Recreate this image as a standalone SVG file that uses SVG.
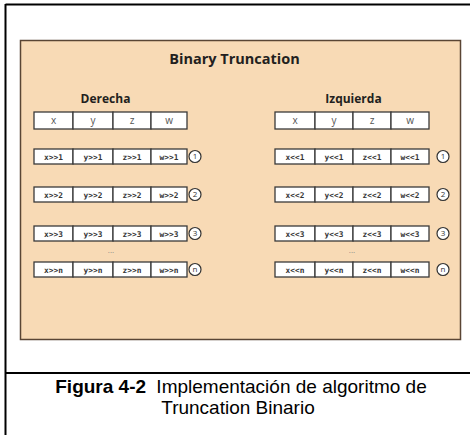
<svg xmlns="http://www.w3.org/2000/svg" width="470" height="435" viewBox="0 0 470 435">
<style>
.frame{stroke:#000;stroke-width:2;fill:none}
.panel{fill:#F8DAB5;stroke:#5a4534;stroke-width:1.5}
.cell{fill:#fff;stroke:#3a3a3a;stroke-width:1.3}
.title{font-family:"Open Sans",sans-serif;font-weight:bold;font-size:14.5px;fill:#231f20;text-anchor:middle}
.sub{font-family:"Open Sans",sans-serif;font-weight:bold;font-size:12px;fill:#231f20;text-anchor:middle}
.hdr{font-family:"Open Sans",sans-serif;font-size:10px;fill:#555;text-anchor:middle}
.dat{font-family:"DejaVu Sans Mono",monospace;font-weight:bold;font-size:7.8px;fill:#333;text-anchor:middle}
.circ{fill:#fff;stroke:#333;stroke-width:1.2}
.num{font-family:"Open Sans",sans-serif;font-size:8px;fill:#333;text-anchor:middle}
.dots{font-family:"Open Sans",sans-serif;font-size:8px;fill:#888;text-anchor:middle}
.cap{font-family:"Liberation Sans",Arial,sans-serif;font-size:19px;fill:#000;text-anchor:middle}
</style>
<defs>
<g id="row4">
<rect class="cell" x="0" y="0" width="39" height="15"/>
<rect class="cell" x="39" y="0" width="40" height="15"/>
<rect class="cell" x="79" y="0" width="38" height="15"/>
<rect class="cell" x="117" y="0" width="36" height="15"/>
</g>
<g id="row4r">
<rect class="cell" x="0" y="0" width="40" height="15"/>
<rect class="cell" x="40" y="0" width="38" height="15"/>
<rect class="cell" x="78" y="0" width="38" height="15"/>
<rect class="cell" x="116" y="0" width="38" height="15"/>
</g>
</defs>
<rect width="470" height="435" fill="#fff"/>
<g id="frame">
<line class="frame" x1="5.5" y1="4.5" x2="470" y2="4.5"/>
<line class="frame" x1="5.5" y1="4" x2="5.5" y2="435"/>
<line class="frame" x1="5" y1="373" x2="470" y2="373"/>
</g>
<g id="panel">
<rect class="panel" x="20.5" y="40.5" width="440" height="299"/>
<text class="title" x="234.5" y="64">Binary Truncation</text>
</g>
<g id="derecha">
<text class="sub" x="105.5" y="103">Derecha</text>
<g id="d-head">
<rect class="cell" x="34" y="112" width="39" height="17"/>
<rect class="cell" x="73" y="112" width="40" height="17"/>
<rect class="cell" x="113" y="112" width="38" height="17"/>
<rect class="cell" x="151" y="112" width="36" height="17"/>
<text class="hdr" x="53.5" y="124">x</text>
<text class="hdr" x="93" y="124">y</text>
<text class="hdr" x="132" y="124">z</text>
<text class="hdr" x="169" y="124">w</text>
</g>
<g id="d-r1">
<use href="#row4" x="34" y="149"/>
<text class="dat" x="53.5" y="159.5">x&gt;&gt;1</text>
<text class="dat" x="93" y="159.5">y&gt;&gt;1</text>
<text class="dat" x="132" y="159.5">z&gt;&gt;1</text>
<text class="dat" x="169" y="159.5">w&gt;&gt;1</text>
<circle class="circ" cx="195" cy="156.5" r="6"/>
<text class="num" x="195" y="159.4">1</text>
</g>
<g id="d-r2">
<use href="#row4" x="34" y="187"/>
<text class="dat" x="53.5" y="197.5">x&gt;&gt;2</text>
<text class="dat" x="93" y="197.5">y&gt;&gt;2</text>
<text class="dat" x="132" y="197.5">z&gt;&gt;2</text>
<text class="dat" x="169" y="197.5">w&gt;&gt;2</text>
<circle class="circ" cx="195" cy="194.5" r="6"/>
<text class="num" x="195" y="197.4">2</text>
</g>
<g id="d-r3">
<use href="#row4" x="34" y="226"/>
<text class="dat" x="53.5" y="236.5">x&gt;&gt;3</text>
<text class="dat" x="93" y="236.5">y&gt;&gt;3</text>
<text class="dat" x="132" y="236.5">z&gt;&gt;3</text>
<text class="dat" x="169" y="236.5">w&gt;&gt;3</text>
<circle class="circ" cx="195" cy="233.5" r="6"/>
<text class="num" x="195" y="236.4">3</text>
</g>
<text class="dots" x="111" y="253">...</text>
<g id="d-rn">
<use href="#row4" x="34" y="262"/>
<text class="dat" x="53.5" y="272.5">x&gt;&gt;n</text>
<text class="dat" x="93" y="272.5">y&gt;&gt;n</text>
<text class="dat" x="132" y="272.5">z&gt;&gt;n</text>
<text class="dat" x="169" y="272.5">w&gt;&gt;n</text>
<circle class="circ" cx="195" cy="269.5" r="6"/>
<text class="num" x="195" y="272.2">n</text>
</g>
</g>
<g id="izquierda">
<text class="sub" x="353.5" y="103">Izquierda</text>
<g id="i-head">
<rect class="cell" x="275" y="112" width="40" height="17"/>
<rect class="cell" x="315" y="112" width="38" height="17"/>
<rect class="cell" x="353" y="112" width="38" height="17"/>
<rect class="cell" x="391" y="112" width="38" height="17"/>
<text class="hdr" x="295" y="124">x</text>
<text class="hdr" x="334" y="124">y</text>
<text class="hdr" x="372" y="124">z</text>
<text class="hdr" x="410" y="124">w</text>
</g>
<g id="i-r1">
<use href="#row4r" x="275" y="149"/>
<text class="dat" x="295" y="159.5">x&lt;&lt;1</text>
<text class="dat" x="334" y="159.5">y&lt;&lt;1</text>
<text class="dat" x="372" y="159.5">z&lt;&lt;1</text>
<text class="dat" x="410" y="159.5">w&lt;&lt;1</text>
<circle class="circ" cx="443" cy="156.5" r="6"/>
<text class="num" x="443" y="159.4">1</text>
</g>
<g id="i-r2">
<use href="#row4r" x="275" y="187"/>
<text class="dat" x="295" y="197.5">x&lt;&lt;2</text>
<text class="dat" x="334" y="197.5">y&lt;&lt;2</text>
<text class="dat" x="372" y="197.5">z&lt;&lt;2</text>
<text class="dat" x="410" y="197.5">w&lt;&lt;2</text>
<circle class="circ" cx="443" cy="194.5" r="6"/>
<text class="num" x="443" y="197.4">2</text>
</g>
<g id="i-r3">
<use href="#row4r" x="275" y="226"/>
<text class="dat" x="295" y="236.5">x&lt;&lt;3</text>
<text class="dat" x="334" y="236.5">y&lt;&lt;3</text>
<text class="dat" x="372" y="236.5">z&lt;&lt;3</text>
<text class="dat" x="410" y="236.5">w&lt;&lt;3</text>
<circle class="circ" cx="443" cy="233.5" r="6"/>
<text class="num" x="443" y="236.4">3</text>
</g>
<text class="dots" x="352" y="253">...</text>
<g id="i-rn">
<use href="#row4r" x="275" y="262"/>
<text class="dat" x="295" y="272.5">x&lt;&lt;n</text>
<text class="dat" x="334" y="272.5">y&lt;&lt;n</text>
<text class="dat" x="372" y="272.5">z&lt;&lt;n</text>
<text class="dat" x="410" y="272.5">w&lt;&lt;n</text>
<circle class="circ" cx="443" cy="269.5" r="6"/>
<text class="num" x="443" y="272.2">n</text>
</g>
</g>
<g id="caption">
<text class="cap" x="241" y="393"><tspan font-weight="bold">Figura 4-2</tspan><tspan dx="5"> Implementación de algoritmo de</tspan></text>
<text class="cap" x="238" y="414">Truncation Binario</text>
</g>
</svg>
